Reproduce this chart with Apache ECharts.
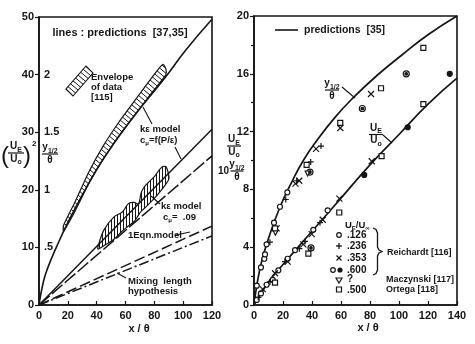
<!DOCTYPE html>
<html><head><meta charset="utf-8">
<script src="https://cdn.jsdelivr.net/npm/echarts@6/dist/echarts.min.js"></script>
<style>html,body{margin:0;padding:0;background:#fff}#c{width:475px;height:344px}</style>
</head><body><div id="c"></div>
<script>
// ================= DATA =================
// ---- left panel ----
const leftXMax = 120, leftXStep = 20;
const leftYMax = 50, leftYStep = 10;
const innerTickValues = [0.5, 1, 1.5, 2];          // y1/2/θ scale (2 -> 40)
const innerTickLabels = ['.5', '1', '1.5', '2'];
// kε model c_μ=f(P/ε): y1/2/θ prediction (on left axis units)
const halfWidthX = [0, 3, 6, 12, 20, 32, 45, 65, 86, 102, 120];
const halfWidthY = [0, 4, 6.4, 10, 14.3, 20, 25.5, 32.5, 39, 44.3, 49.6];
// envelope of data on y1/2/θ
const envHalfX  = [17, 25, 35, 45, 55, 65, 75, 82, 86, 88];
const envHalfLo = [12.8, 16.3, 21.3, 25.5, 29.2, 32.5, 35.8, 38.0, 39.3, 40.0];
const envHalfHi = [13.8, 17.9, 23.3, 27.8, 31.6, 35.0, 38.4, 40.7, 41.8, 41.0];
// envelope of data on (U_E/U_0)^2
const envUX  = [41, 45, 52, 58, 62, 66, 69, 71, 74, 80, 85, 88, 90];
const envULo = [9.7, 10.3, 11.4, 12.9, 13.7, 14.5, 15.6, 16.3, 17.0, 18.5, 20.0, 21.0, 21.8];
const envUHi = [10.2, 13.0, 15.3, 16.2, 17.6, 17.8, 17.5, 19.6, 20.8, 22.3, 23.9, 24.0, 22.5];
// straight-line predictions for (U_E/U_0)^2
const lineX = [0, 120];
const kEpsCmuF = [0, 30.5];
const kEpsCmu09 = [0, 25.9];
const oneEqn = [0, 13.7];
const mixingLength = [0, 12.0];

// ---- right panel ----
const rightXMax = 140, rightXStep = 20;
const rightYMax = 20, rightYStep = 4;
const predHalfX = [0, 2, 5, 9, 18, 27, 34, 42, 56, 69, 85, 102, 120, 140];
const predHalfY = [0, 1.4, 2.9, 4.3, 6.8, 8.7, 10.0, 11.2, 13.0, 14.4, 15.9, 17.3, 18.7, 20.0];
const predUX = [0, 10, 20, 40, 60, 80, 100, 120, 140];
const predUY = [0, 1.6, 2.8, 5.1, 7.4, 9.7, 11.8, 13.9, 15.7];
// Reichardt U_E/U_inf = .126 (open circles)
const reich126 = [[1.9,1.34],[4.8,2.6],[7.1,3.2],[7.6,3.5],[8.7,4.2],[13.8,5.7],[17.9,6.8],[23,7.8],
  [1.9,0.35],[4.8,0.8],[8.7,1.4],[12.9,1.74],[16.8,2.4],[23.2,3.2],[28.3,3.8],[40.9,5.2],[50.8,6.55]];
// .236 (plus)
const reich236 = [[11,4.35],[21.9,7.3],[29.5,8.6],[39.1,9.9],[46.2,11.0],
  [3,0.53],[11,1.6],[21.4,3.0],[31.3,3.9],[35.2,4.4],[45.5,5.7]];
// .353 (cross)
const reich353 = [[15.6,5.3],[28.6,8.4],[31.2,8.6],[42.8,10.8],[59.5,12.25],[80.7,14.6],
  [6,1.1],[14.5,2.2],[23.2,3.0],[34,4.2],[39.8,4.9],[47.4,5.9],[58.9,7.36],[81.2,9.95]];
// .600 (dotted circle / filled circle)
const reich600Open = [[38.6,9.2],[74.7,13.6],[105,16.0],[39.3,3.95]];
const reich600Fill = [[76,9.0],[106,12.3],[135,16.0]];
// Maczynski ? (inverted triangle)
const maczynski = [[14.8,5.0],[37.0,9.1]];
// Ortega .500 (squares)
const ortega500 = [[14.5,5.3],[36.3,9.7],[59.5,12.6],[87.6,15.0],[116.8,17.8],
  [14.5,1.55],[37.5,3.55],[58.8,6.4],[88,10.3],[116.8,13.9]];

// ================= RENDER =================
const INK = '#151515';
const FAM = '"Liberation Sans", Arial, sans-serif';
const chart = echarts.init(document.getElementById('c'), null, {renderer: 'canvas'});

function hatchCanvas(w, h, type) {
  const c = document.createElement('canvas');
  c.width = w; c.height = h;
  const g = c.getContext('2d');
  g.strokeStyle = INK; g.lineWidth = 1;
  g.beginPath();
  if (type === 'v') { g.moveTo(0.5, 0); g.lineTo(0.5, h); }
  else { for (const o of [-w, 0, w]) { g.moveTo(o, 0); g.lineTo(o + w, h); } }
  g.stroke();
  return c;
}
const diagHatch = {image: hatchCanvas(6, 5, 'd'), repeat: 'repeat'};
const vertHatch = {image: hatchCanvas(3, 3, 'v'), repeat: 'repeat'};

function zip(xs, ys) { return xs.map((x, i) => [x, ys[i]]); }

function band(xs, lo, hi, fill, smooth) {
  return {
    type: 'custom', xAxisIndex: 0, yAxisIndex: 0, silent: true, z: 4,
    data: [[xs[0], lo[0]]],
    renderItem(params, api) {
      const pts = [];
      for (let i = 0; i < xs.length; i++) pts.push(api.coord([xs[i], hi[i]]));
      for (let i = xs.length - 1; i >= 0; i--) pts.push(api.coord([xs[i], lo[i]]));
      return {type: 'polygon', shape: {points: pts, smooth: smooth},
        style: {fill: fill, stroke: INK, lineWidth: 1.2}};
    }
  };
}

function lineS(xi, yi, data, dash, width, smooth) {
  return {type: 'line', xAxisIndex: xi, yAxisIndex: yi, data: data, symbol: 'none',
    smooth: smooth || false, silent: true, z: 3,
    lineStyle: {color: INK, width: width || 1.5, type: dash || 'solid'}};
}

const plusPath = 'path://M0,5H10M5,0V10';
const crossPath = 'path://M1,1L9,9M9,1L1,9';
function scat(data, symbol, size, filled, extra) {
  return Object.assign({type: 'scatter', xAxisIndex: 1, yAxisIndex: 2, data: data, silent: true,
    symbol: symbol, symbolSize: size, z: 5,
    itemStyle: {color: filled ? INK : (symbol.startsWith('path') ? 'rgba(0,0,0,0)' : '#fff'),
      borderColor: INK, borderWidth: 1.2, opacity: 1}}, extra || {});
}

// ---- graphic helpers ----
const mctx = document.createElement('canvas').getContext('2d');
function fontStr(size, weight) { return (weight || 'bold') + ' ' + size + 'px ' + FAM; }
function measure(t, size, weight) { mctx.font = fontStr(size, weight); return mctx.measureText(t).width; }
function txt(x, y, text, size, align, weight) {
  return {type: 'text', silent: true, z: 10, x: x, y: y,
    style: {text: text, font: fontStr(size, weight), fill: INK,
      textAlign: align || 'left', textVerticalAlign: 'middle', align: align || 'left', verticalAlign: 'middle'}};
}
// parts: array of [text, kind] kind: 0 normal, 1 subscript, 2 superscript
function rich(x, y, parts, size, align) {
  const ss = Math.round(size * 0.66);
  const ws = parts.map(p => measure(p[0], p[1] ? ss : size));
  const total = ws.reduce((a, b) => a + b, 0);
  let cx = align === 'center' ? x - total / 2 : (align === 'right' ? x - total : x);
  const out = [];
  parts.forEach((p, i) => {
    const dy = p[1] === 1 ? size * 0.35 : (p[1] === 2 ? -size * 0.4 : 0);
    out.push(txt(cx, y + dy, p[0], p[1] ? ss : size, 'left'));
    cx += ws[i];
  });
  return out;
}
function ln(x1, y1, x2, y2, w) {
  return {type: 'line', silent: true, z: 10, shape: {x1, y1, x2, y2}, style: {stroke: INK, lineWidth: w || 1.1}};
}
function frac(cx, y, num, den, w, size) {
  return [].concat(rich(cx, y - 6.5, num, size, 'center'), [ln(cx - w / 2, y, cx + w / 2, y, 1.2)],
    rich(cx, y + 6, den, size, 'center'));
}
const UE = [['U', 0], ['E', 1]], U0 = [['U', 0], ['o', 1]], Y12 = [['y', 0], ['1/2', 1]], TH = [['θ', 0]];

const graphics = [].concat(
  // left panel annotations
  [txt(120, 33, 'lines : predictions  [37,35]', 11, 'center')],
  [{type: 'polygon', silent: true, z: 10, shape: {points: [[66, 89], [73, 96], [93, 73], [86, 66]]},
    style: {fill: diagHatch, stroke: INK, lineWidth: 1.1}}],
  [txt(91, 77, 'Envelope', 9.5), txt(91, 87, 'of data', 9.5), txt(91, 97, '[115]', 9.5)],
  [txt(140, 129, 'kε model', 9.5)],
  rich(140, 140, [['c', 0], ['μ', 1], ['=f(P/ε)', 0]], 9.5, 'left'),
  [ln(143, 107, 152, 124), ln(175, 147, 181, 159)],
  [txt(161, 206, 'kε model', 9.5)],
  rich(163, 217, [['c', 0], ['μ', 1], ['=  .09', 0]], 9.5, 'left'),
  [ln(151, 196, 160, 204)],
  [txt(128, 235, '1Eqn.model', 9.5), ln(176, 235, 190, 232)],
  [txt(128, 281, 'Mixing  length', 9.5), txt(128, 291, 'hypothesis', 9.5), ln(126, 278, 117, 273)],
  // left axis titles
  [txt(5, 156, '(', 24, 'center', 'normal'), txt(27, 156, ')', 24, 'center', 'normal'),
   txt(32, 144, '2', 8)],
  frac(16, 153, UE, U0, 16, 10),
  frac(50, 154, Y12, TH, 16, 10),
  [txt(139, 329, 'x / θ', 11, 'center')],
  // right panel annotations
  [ln(275, 30, 298, 30, 1.6), txt(304, 30, 'predictions  [35]', 10.5)],
  frac(332, 90, Y12, TH, 14, 10), [ln(342, 87, 355, 98)],
  frac(376, 134.5, UE, U0, 14, 10), [ln(383, 135, 392, 143)],
  frac(234, 146, UE, U0, 14, 10),
  [txt(229, 171, '10', 10, 'right')],
  frac(237, 171, Y12, TH, 13, 10),
  [txt(368, 328, 'x / θ', 11, 'center')],
  // right legend
  rich(345, 225, [['U', 0], ['E', 1], ['/U', 0], ['∞', 1]], 9.5, 'left'),
  [{type: 'circle', silent: true, z: 10, shape: {cx: 339, cy: 235, r: 2.3}, style: {fill: '#fff', stroke: INK, lineWidth: 1.2}},
   txt(347, 235, '.126', 10)],
  [ln(336, 246, 342, 246, 1.3), ln(339, 243, 339, 249, 1.3), txt(347, 246, '.236', 10)],
  [ln(336.5, 255.5, 341.5, 260.5, 1.3), ln(341.5, 255.5, 336.5, 260.5, 1.3), txt(347, 258, '.353', 10)],
  [{type: 'circle', silent: true, z: 10, shape: {cx: 333, cy: 270, r: 2.3}, style: {fill: '#fff', stroke: INK, lineWidth: 1.2}},
   {type: 'circle', silent: true, z: 10, shape: {cx: 340, cy: 270, r: 2.6}, style: {fill: INK}},
   txt(347, 270, '.600', 10)],
  [{type: 'polygon', silent: true, z: 10, shape: {points: [[336, 278], [342, 278], [339, 283]]}, style: {fill: '#fff', stroke: INK, lineWidth: 1.2}},
   txt(347, 279, '?', 10)],
  [{type: 'rect', silent: true, z: 10, shape: {x: 336.5, y: 287, width: 5, height: 5}, style: {fill: '#fff', stroke: INK, lineWidth: 1.2}},
   txt(347, 290, '.500', 10)],
  [{type: 'polyline', silent: true, z: 10,
    shape: {points: [[373, 228], [376, 229.5], [377.5, 233], [377.5, 247], [379, 250], [382, 251.5], [379, 253], [377.5, 256], [377.5, 270], [376, 273.5], [373, 275]]},
    style: {stroke: INK, fill: null, lineWidth: 1.3}}],
  [txt(387, 253, 'Reichardt [116]', 9), txt(386, 280, 'Maczynski [117]', 9), txt(386, 290, 'Ortega [118]', 9)]
);

const axLabel = {color: INK, fontSize: 11, fontWeight: 'bold', fontFamily: FAM};
const option = {
  backgroundColor: '#fff',
  animation: false,
  grid: [
    {left: 39, top: 17, width: 173, height: 288, show: true, borderColor: INK, borderWidth: 1.6, backgroundColor: 'transparent'},
    {left: 254, top: 16, width: 203, height: 289, show: true, borderColor: INK, borderWidth: 1.6, backgroundColor: 'transparent'}
  ],
  xAxis: [
    {type: 'value', gridIndex: 0, min: 0, max: leftXMax, interval: leftXStep,
      axisLine: {lineStyle: {color: INK, width: 1.6}}, axisTick: {inside: true, length: 4, lineStyle: {color: INK, width: 1.2}},
      axisLabel: Object.assign({margin: 5}, axLabel), splitLine: {show: false}},
    {type: 'value', gridIndex: 1, min: 0, max: rightXMax, interval: rightXStep,
      axisLine: {lineStyle: {color: INK, width: 1.6}}, axisTick: {inside: true, length: 4, lineStyle: {color: INK, width: 1.2}},
      axisLabel: Object.assign({margin: 5}, axLabel), splitLine: {show: false}}
  ],
  yAxis: [
    {type: 'value', gridIndex: 0, min: 0, max: leftYMax, interval: leftYStep,
      axisLine: {lineStyle: {color: INK, width: 1.6}}, axisTick: {length: 4, lineStyle: {color: INK, width: 1.2}},
      axisLabel: Object.assign({margin: 5}, axLabel), splitLine: {show: false}},
    {type: 'value', gridIndex: 0, position: 'left', min: 0, max: 2.5, interval: 0.5,
      axisLine: {show: false}, axisTick: {show: false}, splitLine: {show: false},
      axisLabel: Object.assign({inside: true, margin: 5,
        formatter: v => { const i = innerTickValues.indexOf(v); return i >= 0 ? innerTickLabels[i] : ''; }}, axLabel)},
    {type: 'value', gridIndex: 1, min: 0, max: rightYMax, interval: rightYStep,
      axisLine: {lineStyle: {color: INK, width: 1.6}}, axisTick: {length: 4, lineStyle: {color: INK, width: 1.2}},
      minorTick: {show: true, splitNumber: 2, length: 3, lineStyle: {color: INK, width: 1.2}},
      axisLabel: Object.assign({margin: 5}, axLabel), splitLine: {show: false}}
  ],
  series: [
    lineS(0, 0, zip(halfWidthX, halfWidthY), 'solid', 1.6, 0.5),
    lineS(0, 0, zip(lineX, kEpsCmuF), 'solid', 1.5),
    lineS(0, 0, zip(lineX, kEpsCmu09), [14, 3], 1.5),
    lineS(0, 0, zip(lineX, oneEqn), [11, 4], 1.5),
    lineS(0, 0, zip(lineX, mixingLength), [10, 3, 2, 3], 1.5),
    band(envHalfX, envHalfLo, envHalfHi, diagHatch, 0.2),
    band(envUX, envULo, envUHi, vertHatch, 0.35),
    lineS(1, 2, zip(predHalfX, predHalfY), 'solid', 1.7, 0.5),
    lineS(1, 2, zip(predUX, predUY), 'solid', 1.7, 0.5),
    scat(reich126, 'circle', 5, false),
    scat(reich236, plusPath, 6, false),
    scat(reich353, crossPath, 6, false),
    scat(reich600Open, 'circle', 6, false),
    scat(reich600Open, 'circle', 2.5, true, {z: 6}),
    scat(reich600Fill, 'circle', 5, true),
    scat(maczynski, 'triangle', 5, false, {symbolRotate: 180}),
    scat(ortega500, 'rect', 5, false)
  ],
  graphic: graphics
};
chart.setOption(option);
</script>
</body></html>
